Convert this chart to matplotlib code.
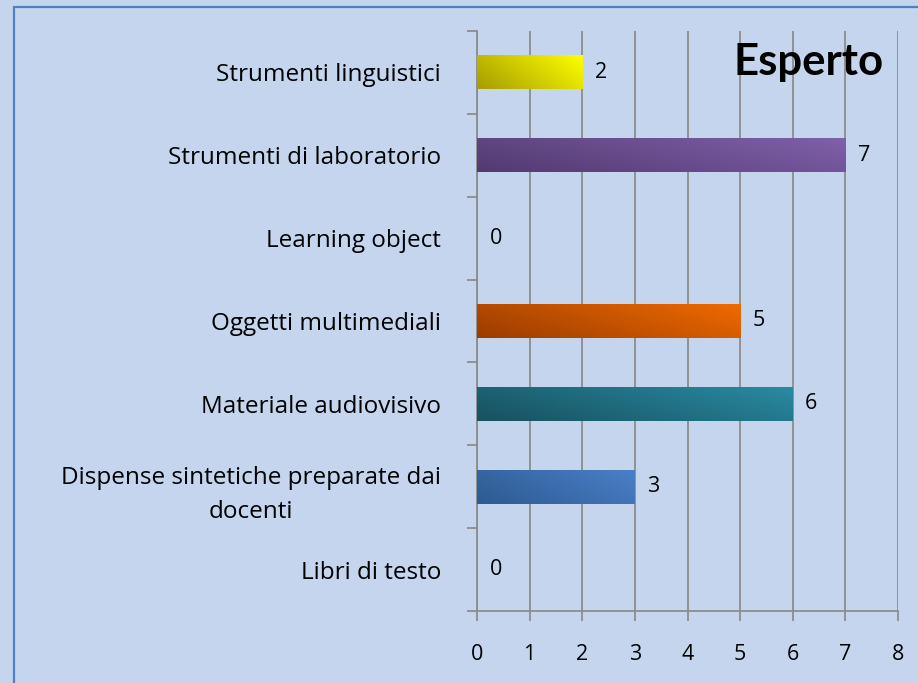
import numpy as np
import matplotlib.pyplot as plt
from matplotlib.patches import Rectangle
from matplotlib.colors import LinearSegmentedColormap

categorie = ['Libri di testo', 'Dispense sintetiche preparate dai\ndocenti',
             'Materiale audiovisivo', 'Oggetti multimediali', 'Learning object',
             'Strumenti di laboratorio', 'Strumenti linguistici']
valori = [0, 3, 6, 5, 0, 7, 2]
# colori (scuro, chiaro) per il gradiente di ogni barra
colori = [('#2d5a90', '#4a80c8'), ('#2d5a90', '#4a80c8'), ('#17515f', '#2a8aa2'),
          ('#9a3c00', '#f06a00'), ('#9a3c00', '#f06a00'), ('#523a70', '#8060aa'),
          ('#a59c00', '#ffff00')]
titolo = 'Esperto'

plt.rcParams['font.family'] = ['Open Sans', 'DejaVu Sans']
sfondo = '#c5d5ee'

fig = plt.figure(figsize=(9.18, 6.83), dpi=100, facecolor=sfondo)
# cornice blu del grafico
fig.patches.append(Rectangle((14/918, -0.05), 1.0, 1.05 - 7/683, transform=fig.transFigure,
                             fill=False, edgecolor='#4f81bd', linewidth=1.6))
ax = fig.add_axes([477/918, 1 - 611/683, (898-477)/918, (611-31)/683])
ax.set_facecolor(sfondo)

y = np.arange(len(categorie))
barre = ax.barh(y, valori, height=0.41, color=[c[1] for c in colori], zorder=3)

# gradiente dentro ogni barra
g = np.linspace(0, 1, 256)
grad = (g[None, :] * 0.7 + (1 - g[::-1, None]) * 0.3)
for b, (c0, c1) in zip(barre, colori):
    if b.get_width() == 0:
        continue
    cmap = LinearSegmentedColormap.from_list('g', [c0, c1])
    x0, y0 = b.get_x(), b.get_y()
    im = ax.imshow(grad, cmap=cmap, aspect='auto', zorder=4,
                   extent=[x0, x0 + b.get_width(), y0 + b.get_height(), y0])
    im.set_clip_path(b)

for yi, v in zip(y, valori):
    ax.annotate(str(v), (v, yi), xytext=(9, 0), textcoords='offset points',
                va='center', ha='left', fontsize=15.5, zorder=5)

ax.set_xlim(0, 8)
ax.set_ylim(-0.5, len(categorie) - 0.5)
ax.set_xticks(range(9))
ax.grid(axis='x', color='#8c8c8c', linewidth=1.3, zorder=1)
ax.set_yticks(y)
ax.set_yticklabels(categorie, fontsize=17.5, multialignment='center', linespacing=1.55)
ax.set_yticks(np.arange(-0.5, len(categorie)), minor=True)
ax.tick_params(axis='y', which='major', length=0, pad=26)
ax.tick_params(axis='y', which='minor', length=7, color='#8c8c8c', width=1.3)
ax.tick_params(axis='x', length=7, color='#8c8c8c', width=1.3, pad=17, labelsize=15.5)
for s in ['top', 'right']:
    ax.spines[s].set_visible(False)
for s in ['left', 'bottom']:
    ax.spines[s].set_color('#8c8c8c')
    ax.spines[s].set_linewidth(1.3)

ax.text(0.965, 0.947, titolo, transform=ax.transAxes, ha='right', va='center',
        fontsize=31.5, fontweight='bold', family=['Lato', 'DejaVu Sans'], zorder=6)

fig.savefig('out.png', dpi=100, facecolor=sfondo)
